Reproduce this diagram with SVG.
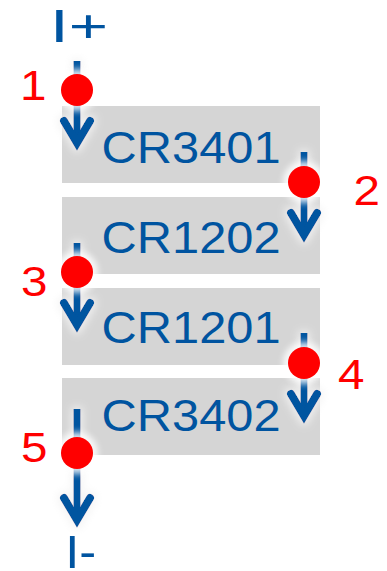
<svg xmlns="http://www.w3.org/2000/svg" width="387" height="571" viewBox="0 0 387 571">
<style>
.box{fill:#d5d5d5}
.lbl{font-family:"Liberation Sans",Arial,sans-serif;font-size:44px;fill:#0054a0}
.num{font-family:"Liberation Sans",Arial,sans-serif;font-size:43px;fill:#ff0000}
.term{font-family:"Liberation Sans",Arial,sans-serif;font-size:46px;fill:#0054a0}
.shaft{stroke:#0054a0;stroke-width:7;fill:none}
.head{stroke:#0054a0;stroke-width:8;fill:none;stroke-linecap:round;stroke-linejoin:miter;stroke-miterlimit:10}
.dot{fill:#ff0000}
.halo{fill:#ffffff;opacity:0.85}
</style>
<defs>
<filter id="glow" filterUnits="userSpaceOnUse" x="0" y="0" width="387" height="571">
<feMorphology in="SourceAlpha" operator="dilate" radius="2" result="d"/>
<feGaussianBlur in="d" stdDeviation="4" result="b"/>
<feFlood flood-color="#f3f3f3" flood-opacity="0.9"/>
<feComposite in2="b" operator="in" result="g"/>
<feMerge><feMergeNode in="g"/><feMergeNode in="SourceGraphic"/></feMerge>
</filter>
<filter id="blur" x="-50%" y="-50%" width="200%" height="200%">
<feGaussianBlur stdDeviation="3"/>
</filter>
</defs>

<g id="CR3401">
<rect class="box" x="62" y="106" width="258" height="77"/>
<text class="lbl" x="101.6" y="163" textLength="179" lengthAdjust="spacingAndGlyphs">CR3401</text>
</g>
<g id="CR1202">
<rect class="box" x="62" y="197" width="258" height="77"/>
<text class="lbl" x="101.6" y="253" textLength="179" lengthAdjust="spacingAndGlyphs">CR1202</text>
</g>
<g id="CR1201">
<rect class="box" x="62" y="288" width="258" height="77"/>
<text class="lbl" x="101.6" y="343" textLength="179" lengthAdjust="spacingAndGlyphs">CR1201</text>
</g>
<g id="CR3402">
<rect class="box" x="62" y="378" width="258" height="77"/>
<text class="lbl" x="101.6" y="431" textLength="179" lengthAdjust="spacingAndGlyphs">CR3402</text>
</g>

<g id="terminals">
<text class="term" x="50" y="42" textLength="58" lengthAdjust="spacingAndGlyphs">I+</text>
<text class="term" x="65.2" y="568" textLength="31" lengthAdjust="spacingAndGlyphs">I-</text>
</g>

<g id="connectors">
<g id="arrow1" filter="url(#glow)">
<line class="shaft" x1="77" y1="61" x2="77" y2="142"/>
<polyline class="head" points="64,121 77,143 90,121"/>
</g>
<g id="arrow2" filter="url(#glow)">
<line class="shaft" x1="304" y1="152" x2="304" y2="234"/>
<polyline class="head" points="291,213 304,235 317,213"/>
</g>
<g id="arrow3" filter="url(#glow)">
<line class="shaft" x1="77" y1="243" x2="77" y2="324"/>
<polyline class="head" points="64,303 77,325 90,303"/>
</g>
<g id="arrow4" filter="url(#glow)">
<line class="shaft" x1="304" y1="333" x2="304" y2="415"/>
<polyline class="head" points="291,394 304,416 317,394"/>
</g>
<g id="arrow5" filter="url(#glow)">
<line class="shaft" x1="77" y1="409" x2="77" y2="519"/>
<polyline class="head" points="64,498 77,520 90,498"/>
</g>
</g>

<g id="node1">
<circle class="halo" cx="77" cy="90" r="21" filter="url(#blur)"/>
<circle class="dot" cx="77" cy="90" r="16"/>
<text class="num" x="20" y="100" textLength="26.5" lengthAdjust="spacingAndGlyphs">1</text>
</g>
<g id="node2">
<circle class="halo" cx="304" cy="182" r="21" filter="url(#blur)"/>
<circle class="dot" cx="304" cy="182" r="16"/>
<text class="num" x="353.5" y="205" textLength="26.5" lengthAdjust="spacingAndGlyphs">2</text>
</g>
<g id="node3">
<circle class="halo" cx="77" cy="272" r="21" filter="url(#blur)"/>
<circle class="dot" cx="77" cy="272" r="16"/>
<text class="num" x="21" y="296" textLength="26.5" lengthAdjust="spacingAndGlyphs">3</text>
</g>
<g id="node4">
<circle class="halo" cx="304" cy="363" r="21" filter="url(#blur)"/>
<circle class="dot" cx="304" cy="363" r="16"/>
<text class="num" x="338" y="389" textLength="26.5" lengthAdjust="spacingAndGlyphs">4</text>
</g>
<g id="node5">
<circle class="halo" cx="77" cy="453" r="21" filter="url(#blur)"/>
<circle class="dot" cx="77" cy="453" r="16"/>
<text class="num" x="21" y="462" textLength="26.5" lengthAdjust="spacingAndGlyphs">5</text>
</g>
</svg>
